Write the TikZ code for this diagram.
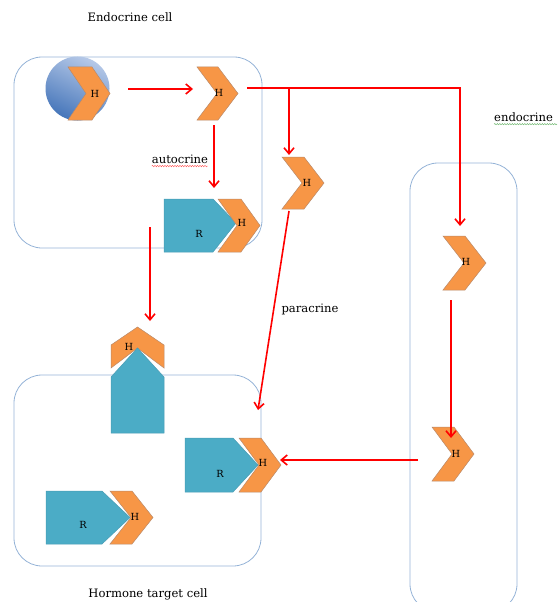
\documentclass[tikz,border=0pt]{standalone}
\usepackage{fontspec}
\setmainfont{DejaVu Serif}
\usetikzlibrary{arrows.meta,decorations.pathmorphing}
\definecolor{hormone}{HTML}{F79646}
\definecolor{hedge}{HTML}{B98A6A}
\definecolor{receptor}{HTML}{4BACC6}
\definecolor{redge}{HTML}{4A9CB4}
\definecolor{membrane}{HTML}{95B3D7}
\definecolor{signal}{HTML}{FF0000}
\definecolor{ballhi}{HTML}{B6C9E8}
\definecolor{balllo}{HTML}{4676BA}
\tikzset{
  hormonebox/.style={fill=hormone, draw=hedge, line width=0.5pt, line join=miter},
  receptorbox/.style={fill=receptor, draw=redge, line width=0.5pt},
  cellwall/.style={draw=membrane, line width=0.8pt, rounded corners=28pt},
  flow/.style={draw=signal, line width=1.6pt, -{Straight Barb[length=6pt,width=10pt,line width=1.6pt]}},
  lbl/.style={inner sep=0pt, font=\fontsize{9.8}{11}\selectfont},
  caption/.style={inner sep=0pt, font=\fontsize{11.6}{13}\selectfont},
  spell/.style={line width=0.4pt, decorate, decoration={snake, amplitude=0.7pt, segment length=2.5pt}},
}
% right-pointing chevron: #1 left x, #2 top y, #3 width, #4 height, #5 notch depth
\newcommand\chevron[5]{%
  \path[hormonebox] (#1,#2) -- ({#1+#3-#5},#2) -- ({#1+#3},{#2+#4/2}) --
    ({#1+#3-#5},{#2+#4}) -- (#1,{#2+#4}) -- ({#1+#5},{#2+#4/2}) -- cycle;}
\begin{document}
\begin{tikzpicture}[x=1pt,y=-1pt]
\useasboundingbox (0,0) rectangle (557,602);
\clip (0,0) rectangle (557,602);

% cell outlines
\draw[cellwall] (14,57) rectangle (262,248);
\draw[cellwall] (14,375) rectangle (261,566);
\draw[cellwall] (410,163) rectangle (517,612);

% secretory vesicle with hormone
\shade[top color=ballhi, bottom color=balllo, shading angle=-25] (77.5,88.5) circle (32);
\chevron{68}{67}{42}{53}{18}
\node[lbl] (h0) at (95,94) {H};

% released hormone
\chevron{197}{67}{41}{53}{20}
\node[lbl] (h1) at (219,93) {H};

% receptor with bound hormone, endocrine cell
\path[receptorbox] (164,199) -- (213,199) -- (236,223) -- (213,252) -- (164,252) -- cycle;
\chevron{218}{199}{42}{53}{19}
\node[lbl] (r1) at (199,234) {R};
\node[lbl] (h2) at (242,223) {H};

% paracrine hormone
\chevron{282}{157}{42}{52}{20}
\node[lbl] (h3) at (307,183) {H};

% hormones in the blood vessel
\chevron{443}{236}{43}{54}{21}
\node[lbl] (h4) at (466,262) {H};
\chevron{432}{427}{42}{54}{20}
\node[lbl] (h5) at (456,454) {H};

% upward receptor at the target membrane
\path[hormonebox] (111,368) -- (111,345) -- (137.5,327) -- (164,345) -- (164,368) -- (137.5,348) -- cycle;
\node[lbl] (h6) at (129,347) {H};
\path[receptorbox] (111,433) -- (111,377) -- (137.5,348) -- (164,377) -- (164,433) -- cycle;

% receptor reached by paracrine / endocrine hormone
\path[receptorbox] (185,438) -- (233,438) -- (258,465) -- (233,492) -- (185,492) -- cycle;
\chevron{239}{438}{42}{54}{20}
\node[lbl] (r2) at (220,474) {R};
\node[lbl] (h7) at (263,463) {H};

% receptor with bound hormone, target cell
\path[receptorbox] (46,491) -- (102,491) -- (130,517.5) -- (102,544) -- (46,544) -- cycle;
\chevron{110}{491}{43}{53}{21}
\node[lbl] (r3) at (83,525) {R};
\node[lbl] (h8) at (135,517) {H};

% captions
\node[caption] (tc) at (130,17) {Endocrine cell};
\node[caption] (bc) at (148,594) {Hormone target cell};
\node[caption, anchor=west] (endo) at (494,117) {endocrine};
\node[caption] (auto) at (180,159) {autocrine};
\node[caption] (para) at (310,309) {paracrine};
\draw[spell, draw=red!70] (auto.south west) ++(0,2.5) -- ++(56,0);
\draw[spell, draw=green!50!black!60] (endo.south west) ++(0,2.5) -- ++(63,0);

% signalling paths
\coordinate (a0) at (128,89);
\coordinate (a1) at (193,89);
\coordinate (b0) at (247,88);
\coordinate (bk) at (460,88);
\coordinate (b1) at (460,226);
\coordinate (pb) at (289,88);
\coordinate (p1) at (289,155);
\coordinate (ac0) at (214,125);
\coordinate (ac1) at (214,188);
\coordinate (d0) at (150,227);
\coordinate (d1) at (150,321);
\coordinate (q0) at (289,211);
\coordinate (q1) at (258,410);
\coordinate (e0) at (451,300);
\coordinate (e1) at (451,438);
\coordinate (f0) at (418,460);
\coordinate (f1) at (280,460);

\draw[flow] (a0) -- (a1);
\draw[flow] (b0) -- (bk) -- (b1);
\draw[flow] (pb) -- (p1);
\draw[flow] (ac0) -- (ac1);
\draw[flow] (d0) -- (d1);
\draw[flow] (q0) -- (q1);
\draw[flow] (e0) -- (e1);
\draw[flow] (f0) -- (f1);
\end{tikzpicture}
\end{document}
